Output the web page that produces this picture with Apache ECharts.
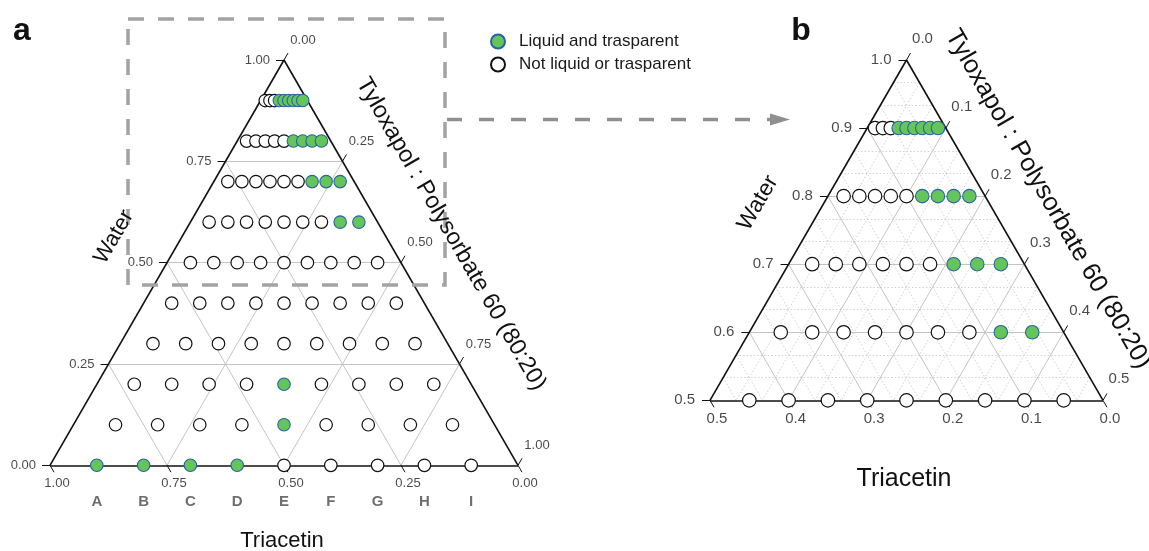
<!DOCTYPE html>
<html>
<head>
<meta charset="utf-8">
<script src="https://cdn.jsdelivr.net/npm/echarts@6/dist/echarts.min.js"></script>
<style>
  html, body { margin: 0; padding: 0; background: #ffffff; }
  #chart { width: 1149px; height: 551px; }
</style>
</head>
<body>
<div id="chart"></div>
<script>
// Water content of each sampled row (mass fraction)
const waterLevels = [0, 0.1, 0.2, 0.3, 0.4, 0.5, 0.6, 0.7, 0.8, 0.9];
// Dilution lines A–I: triacetin share of the triacetin + surfactant part
const dilutionLines = ['A', 'B', 'C', 'D', 'E', 'F', 'G', 'H', 'I'];
const triacetinShare = [0.9, 0.8, 0.7, 0.6, 0.5, 0.4, 0.3, 0.2, 0.1];
// Observed outcome on lines A..I for each water row: 1 = liquid and transparent
const row00 = [1, 1, 1, 1, 0, 0, 0, 0, 0];
const row10 = [0, 0, 0, 0, 1, 0, 0, 0, 0];
const row20 = [0, 0, 0, 0, 1, 0, 0, 0, 0];
const row30 = [0, 0, 0, 0, 0, 0, 0, 0, 0];
const row40 = [0, 0, 0, 0, 0, 0, 0, 0, 0];
const row50 = [0, 0, 0, 0, 0, 0, 0, 0, 0];
const row60 = [0, 0, 0, 0, 0, 0, 0, 1, 1];
const row70 = [0, 0, 0, 0, 0, 0, 1, 1, 1];
const row80 = [0, 0, 0, 0, 0, 1, 1, 1, 1];
const row90 = [0, 0, 0, 1, 1, 1, 1, 1, 1];
const outcomeRows = [row00, row10, row20, row30, row40, row50, row60, row70, row80, row90];

// Axis ticks: full diagram (a) and water-rich corner (b)
const ticksFull = [0, 0.25, 0.5, 0.75, 1];
const waterTicksZoom = [0.5, 0.6, 0.7, 0.8, 0.9, 1.0];
const compTicksZoom = [0, 0.1, 0.2, 0.3, 0.4, 0.5];

const SERIES_OK = 'Liquid and trasparent';
const SERIES_NO = 'Not liquid or trasparent';
const FONT = '"Liberation Sans", Arial, Helvetica, sans-serif';
const SQ = Math.sqrt(3) / 2;

// ternary (water, triacetin, surfactant) -> cartesian; triacetin vertex at left, surfactant at right
const xy = (w, t, s) => [s + w / 2, w * SQ];
const add = (p, d) => [p[0] + d[0], p[1] + d[1]];

const panels = [
  {
    wMin: 0, ppu: 468, dec: 2, size: 12.5, tickFont: 13,
    wTicks: ticksFull, cTicks: ticksFull,
    majorW: [0.25, 0.5, 0.75], majorC: [0.25, 0.5, 0.75],
    minorW: [], minorC: [],
    offW: -14, offS: [19, -20], offT: [7, 18]
  },
  {
    wMin: 0.5, ppu: 786, dec: 1, size: 13.5, tickFont: 15,
    wTicks: waterTicksZoom, cTicks: compTicksZoom,
    majorW: [0.6, 0.7, 0.8, 0.9], majorC: [0.1, 0.2, 0.3, 0.4],
    minorW: [], minorC: [],
    offW: -15, offS: [16, -21], offT: [7, 19]
  }
];
// dotted minor grid of the zoomed corner every 1/30
for (let k = 1; k < 15; k++) {
  if (k % 3 === 0) continue;
  panels[1].minorW.push(0.5 + k / 30);
  panels[1].minorC.push(k / 30);
}

function gridSegments(p, wList, cList) {
  const segs = [];
  const m = p.wMin;
  wList.forEach(c => segs.push([xy(c, 1 - c, 0), xy(c, 0, 1 - c)]));
  cList.forEach(c => {
    segs.push([xy(1 - c, c, 0), xy(m, c, 1 - m - c)]);   // constant triacetin
    segs.push([xy(1 - c, 0, c), xy(m, 1 - m - c, c)]);   // constant surfactant
  });
  return segs;
}

const series = [];
panels.forEach((p, gi) => {
  const m = p.wMin;
  const L = 8 / p.ppu;
  const base = { xAxisIndex: gi, yAxisIndex: gi, silent: true, animation: false };

  // minor grid
  if (p.minorW.length) {
    series.push(Object.assign({}, base, {
      type: 'lines', coordinateSystem: 'cartesian2d', polyline: false, clip: false, z: 1,
      lineStyle: { color: '#d2d2d2', width: 1, type: [1.5, 2], opacity: 1, curveness: 0 },
      data: gridSegments(p, p.minorW, p.minorC).map(s => ({ coords: s }))
    }));
  }
  // major grid
  series.push(Object.assign({}, base, {
    type: 'lines', coordinateSystem: 'cartesian2d', polyline: false, clip: false, z: 2,
    lineStyle: { color: '#c4c4c4', width: 1, type: 'solid', opacity: 1, curveness: 0 },
    data: gridSegments(p, p.majorW, p.majorC).map(s => ({ coords: s }))
  }));

  // triangle outline and tick marks
  const top = xy(1, 0, 0), left = xy(m, 1 - m, 0), right = xy(m, 0, 1 - m);
  const frame = [[top, left], [left, right], [right, top]];
  const ticks = [];
  const labels = [];
  p.wTicks.forEach(c => {
    const pt = xy(c, 1 - c, 0);
    ticks.push([pt, add(pt, [-L, 0])]);
    labels.push({ value: pt, label: { formatter: c.toFixed(p.dec), align: 'right', offset: [p.offW, 0] } });
  });
  p.cTicks.forEach(c => {
    const ps = xy(1 - c, 0, c);
    ticks.push([ps, add(ps, [L * 0.5, L * SQ])]);
    labels.push({ value: ps, label: { formatter: c.toFixed(p.dec), offset: p.offS } });
    const pt = xy(m, c, 1 - m - c);
    ticks.push([pt, add(pt, [L * 0.5, -L * SQ])]);
    labels.push({ value: pt, label: { formatter: c.toFixed(p.dec), offset: p.offT } });
  });
  series.push(Object.assign({}, base, {
    type: 'lines', coordinateSystem: 'cartesian2d', polyline: false, clip: false, z: 3,
    lineStyle: { color: '#111111', width: 1, opacity: 1, curveness: 0 },
    data: ticks.map(s => ({ coords: s }))
  }));
  series.push(Object.assign({}, base, {
    type: 'lines', coordinateSystem: 'cartesian2d', polyline: false, clip: false, z: 3,
    lineStyle: { color: '#111111', width: 1.6, opacity: 1, curveness: 0 },
    data: frame.map(s => ({ coords: s }))
  }));

  // tick labels
  series.push(Object.assign({}, base, {
    type: 'scatter', symbolSize: 0, clip: false, z: 6,
    itemStyle: { color: 'rgba(0,0,0,0)' },
    emphasis: { disabled: true },
    label: { show: true, position: 'inside', color: '#1a1a1a', fontSize: p.tickFont, fontFamily: FONT },
    data: labels
  }));

  // sampled compositions
  const ok = [], no = [];
  waterLevels.forEach((w, ri) => {
    if (w < m - 1e-9) return;
    triacetinShare.forEach((f, li) => {
      const pt = xy(w, (1 - w) * f, (1 - w) * (1 - f));
      (outcomeRows[ri][li] ? ok : no).push(pt);
    });
  });
  series.push(Object.assign({}, base, {
    name: SERIES_NO, type: 'scatter', symbol: 'circle', symbolSize: p.size, clip: false, z: 8,
    itemStyle: { color: '#ffffff', borderColor: '#111111', borderWidth: 1.2, opacity: 1 },
    emphasis: { disabled: true },
    data: no
  }));
  series.push(Object.assign({}, base, {
    name: SERIES_OK, type: 'scatter', symbol: 'circle', symbolSize: p.size, clip: false, z: 9,
    itemStyle: { color: '#64c55a', borderColor: '#2b62a6', borderWidth: 1.1, opacity: 1 },
    emphasis: { disabled: true },
    data: ok
  }));

  // dilution line letters under the full diagram
  if (gi === 0) {
    series.push(Object.assign({}, base, {
      type: 'scatter', symbolSize: 0, clip: false, z: 6,
      itemStyle: { color: 'rgba(0,0,0,0)' },
      emphasis: { disabled: true },
      label: {
        show: true, position: 'inside', offset: [0, 37], formatter: '{b}',
        color: '#4a4a4a', fontSize: 15, fontWeight: 'bold', fontFamily: FONT
      },
      data: dilutionLines.map((n, i) => ({ name: n, value: xy(0, triacetinShare[i], 1 - triacetinShare[i]) }))
    }));
  }
});

const chart = echarts.init(document.getElementById('chart'), null, { renderer: 'canvas' });

const title = (text, x, y, size, rot, weight) => ({
  type: 'text', x: x, y: y, rotation: rot || 0, silent: true, z: 20,
  style: {
    text: text, fill: '#111111', font: (weight || 'normal') + ' ' + size + 'px ' + FONT,
    align: 'center', verticalAlign: 'middle', textAlign: 'center', textVerticalAlign: 'middle'
  }
});

chart.setOption({
  animation: false,
  backgroundColor: '#ffffff',
  tooltip: { show: false },
  grid: [
    { left: 50, top: 60, width: 468, height: 468 * SQ },
    { left: 710, top: 60, width: 393, height: 393 * SQ }
  ],
  xAxis: [
    { type: 'value', gridIndex: 0, min: 0, max: 1, show: false },
    { type: 'value', gridIndex: 1, min: 0.25, max: 0.75, show: false }
  ],
  yAxis: [
    { type: 'value', gridIndex: 0, min: 0, max: SQ, show: false },
    { type: 'value', gridIndex: 1, min: SQ / 2, max: SQ, show: false }
  ],
  legend: {
    orient: 'vertical', left: 490, top: 33, padding: 0,
    itemWidth: 14, itemHeight: 14, itemGap: 6, icon: 'circle',
    selectedMode: false,
    data: [SERIES_OK, SERIES_NO],
    textStyle: { fontSize: 17, color: '#1a1a1a', fontFamily: FONT, padding: [0, 0, 0, 9] }
  },
  graphic: [
    // region of the full diagram shown enlarged on the right
    {
      type: 'rect', silent: true, z: 15,
      shape: { x: 128, y: 19, width: 317, height: 266 },
      style: { fill: 'none', stroke: '#a3a3a3', lineWidth: 3.5, lineDash: [16, 14] }
    },
    {
      type: 'line', silent: true, z: 15,
      shape: { x1: 447, y1: 119.5, x2: 772, y2: 119.5 },
      style: { stroke: '#8f8f8f', lineWidth: 3.5, lineDash: [15, 17] }
    },
    {
      type: 'polygon', silent: true, z: 15,
      shape: { points: [[770, 113.5], [790, 119.5], [770, 125.5]] },
      style: { fill: '#8f8f8f' }
    },
    title('a', 22, 31, 32, 0, 'bold'),
    title('b', 801, 31, 32, 0, 'bold'),
    title('Water', 114, 237, 22, Math.PI / 3),
    title('Tyloxapol : Polysorbate 60 (80:20)', 451, 234, 23.5, -Math.PI / 3),
    title('Triacetin', 282, 541, 22),
    title('Water', 758, 203, 22.5, Math.PI / 3),
    title('Tyloxapol : Polysorbate 60 (80:20)', 1048, 199, 25.5, -Math.PI / 3),
    title('Triacetin', 904, 479, 25)
  ],
  series: series
});
</script>
</body>
</html>
